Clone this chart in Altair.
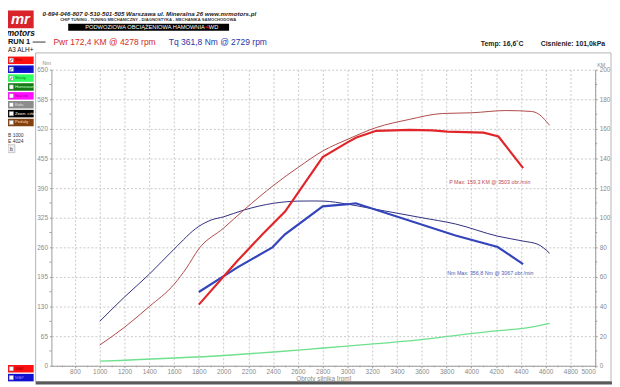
import altair as alt
import pandas as pd

# ---------------- data ----------------
# RUN 1 (thin curves)
run_tq_rpm = [1000, 1200, 1400, 1600, 1800, 1900, 2000, 2165, 2405, 2605, 2729, 2805, 3005, 3152, 3400, 3600, 3872, 4213, 4418, 4538, 4632]
run_tq_nm = [97.5, 151, 201, 256, 306, 320, 327, 342, 356.8, 361.5, 361.8, 361.5, 354.6, 347.3, 335, 325, 311.3, 284.5, 273.7, 266.5, 247]
run_pw_rpm = [1000, 1200, 1400, 1600, 1700, 1800, 2000, 2165, 2405, 2605, 2805, 3005, 3232, 3499, 3765, 4005, 4278, 4485, 4525, 4632]
run_pw_km = [14, 26, 40, 55, 66, 79, 93, 105.3, 122, 134.2, 145.3, 153.1, 160.9, 166.4, 170.4, 170.9, 172.4, 171.8, 170.9, 162.4]
# second run (thick curves)
cmp_tq_rpm = [1800, 2112, 2394, 2493, 2800, 3005, 3067, 3872, 4213, 4418]
cmp_tq_nm = [162, 216, 260, 288, 350, 354.7, 356.8, 286, 260.7, 223.2]
cmp_pw_rpm = [1800, 2112, 2312, 2496, 2800, 3000, 3072, 3232, 3503, 3685, 3805, 4099, 4219, 4418]
cmp_pw_km = [41.3, 70.9, 88.7, 104.2, 140.9, 150.9, 154.2, 158.7, 159.3, 159.0, 158.2, 157.5, 154.9, 133.5]
# losses
loss_rpm = [1000, 2032, 2405, 2805, 3232, 3632, 3805, 4219, 4418, 4632]
loss_km = [3.1, 7.1, 9.3, 12, 14.9, 18, 19.8, 23.8, 25.3, 28.7]

x_ticks = list(range(800, 5001, 200))
x_minor = list(range(700, 5001, 200))
nm_ticks = list(range(0, 651, 65))
nm_minor = [t + 32.5 for t in nm_ticks[:-1]]
km_ticks = list(range(0, 201, 20))
km_minor = [t + 10 for t in km_ticks[:-1]]

legend_labels = ["Moc", "Moment", "Straty", "Hamowanie", "Nacisk", "Koła", "Zewn. ciśn.", "Pedałg"]
legend_colors = ["#ff1010", "#1010d0", "#30ff60", "#157a15", "#ff10ff", "#8c8c8c", "#000000", "#804010"]
legend_text = ["#a00000", "#000080", "#108030", "#c0ffc0", "#a000a0", "#e0e0e0", "#ffffff", "#ffd0a0"]
legend_checked = [True, True, True, False, False, False, False, False]

FONT = "Liberation Sans"
X0, Y0 = 52, 68          # page position of the plot origin
W, H = 551, 300

dummy = pd.DataFrame({"d": [0]})


def txt(s, xp, yp, size, color="#222222", weight="normal", style="normal", align="left", font=FONT):
    return alt.Chart(dummy).mark_text(
        text=s, fontSize=size, color=color, fontWeight=weight, fontStyle=style,
        align=align, baseline="middle", font=font
    ).encode(x=alt.value(xp - X0), y=alt.value(yp - Y0))


def box(x1, y1, x2, y2, fill, stroke=None, sw=0.0, fo=1.0):
    kw = dict(fill=fill, fillOpacity=fo)
    if stroke is not None:
        kw.update(stroke=stroke, strokeWidth=sw)
    return alt.Chart(dummy).mark_rect(**kw).encode(
        x=alt.value(x1 - X0), x2=alt.value(x2 - X0), y=alt.value(y1 - Y0), y2=alt.value(y2 - Y0))


def hline(x1, x2, yp, color, sw=1.0):
    return alt.Chart(dummy).mark_rule(color=color, strokeWidth=sw).encode(
        x=alt.value(x1 - X0), x2=alt.value(x2 - X0), y=alt.value(yp - Y0))


# ---------------- scales / axes ----------------
lab = dict(labelFont=FONT, labelFontSize=6.5, labelColor="#8a8a8a", tickColor="#9a9a9a",
           domainColor="#9a9a9a", tickSize=2, labelPadding=2)
x_enc = alt.X("rpm:Q", scale=alt.Scale(domain=[610, 5000], nice=False, zero=False),
              axis=alt.Axis(values=x_ticks, format="d", grid=True, gridDash=[2, 2], gridColor="#c8c8c8",
                            title="Obroty silnika [rpm]", titleFont=FONT, titleFontSize=6.5,
                            titleFontWeight="normal", titleColor="#8a8a8a", titlePadding=0,
                            **{**lab, "labelPadding": 1}))
nm_enc = alt.Y("v:Q", scale=alt.Scale(domain=[0, 650], nice=False),
               axis=alt.Axis(values=nm_ticks, format="d", grid=True, gridDash=[2, 2], gridColor="#c8c8c8",
                             title=None, orient="left", **lab))
km_enc = alt.Y("v:Q", scale=alt.Scale(domain=[0, 200], nice=False),
               axis=alt.Axis(values=km_ticks, format="d", grid=False, title=None, orient="right", **lab))


def line(rpm, vals, y_enc, color, width, interp="linear"):
    df = pd.DataFrame({"rpm": rpm, "v": vals})
    return alt.Chart(df).mark_line(color=color, strokeWidth=width, interpolate=interp).encode(x=x_enc, y=y_enc)


nm_minor_df = pd.DataFrame({"v": nm_minor})
km_minor_df = pd.DataFrame({"v": km_minor})
x_minor_df = pd.DataFrame({"rpm": x_minor})

nm_group = alt.layer(
    line(run_tq_rpm, run_tq_nm, nm_enc, "#2e2e80", 1.0, "monotone"),
    line(cmp_tq_rpm, cmp_tq_nm, nm_enc, "#3444bb", 2.2),
    alt.Chart(nm_minor_df).mark_rule(color="#9a9a9a").encode(y=nm_enc, x=alt.value(-2), x2=alt.value(0)),
)
km_group = alt.layer(
    line(loss_rpm, loss_km, km_enc, "#6ee08e", 1.3, "monotone"),
    line(run_pw_rpm, run_pw_km, km_enc, "#b04848", 1.0, "monotone"),
    line(cmp_pw_rpm, cmp_pw_km, km_enc, "#e0262a", 2.2),
    alt.Chart(km_minor_df).mark_rule(color="#9a9a9a").encode(y=km_enc, x=alt.value(W), x2=alt.value(W + 2)),
)
x_minor_layer = alt.Chart(x_minor_df).mark_rule(color="#9a9a9a").encode(
    x=x_enc, y=alt.value(H), y2=alt.value(H + 1.5))

# ---------------- decorations ----------------
back = [
    box(36, 51, 619, 384, "#ffffff", "#b4b4b4", 1.0, 0.0),
    box(36, 384, 620, 387, "#5a5a5a"),
]

front = [
    # logo
    box(8, 8, 34, 26, "#d8232a"),
    txt("mr", 20.5, 17, 15, "#ffffff", "bold", "italic", "center"),
    txt("motors", 21, 31, 8.5, "#111111", "bold", "italic", "center"),
    # header
    txt("0-694-046-807   0-510-501-505   Warszawa ul. Mineralna 26   www.mrmotors.pl", 43, 11.5, 6.2, "#222222", "bold", "italic"),
    txt("CHIP TUNING - TUNING MECHANICZNY - DIAGNOSTYKA - MECHANIKA SAMOCHODOWA", 150, 18, 4.2, "#333333", "bold", "normal", "center"),
    box(69, 21.5, 232, 28.5, "#000000"),
    txt("PODWOZIOWA OBCIĄŻENIOWA HAMOWNIA ", 207.5, 25, 5.8, "#ffffff", "normal", "normal", "right"),
    txt("4", 208, 25, 5.8, "#ff2020"),
    txt("WD", 211.5, 25, 5.8, "#ffffff"),
    txt("RUN 1", 8, 40, 7.5, "#111111", "bold"),
    txt("A3 ALH+", 8, 48.5, 6.5, "#111111"),
    hline(33, 46, 40, "#333333", 1.0),
    txt("Pwr  172,4 KM @ 4278 rpm", 54, 40, 8.6, "#d42a2a"),
    txt("Tq  361,8 Nm @ 2729 rpm", 171, 40, 8.6, "#2a35a8"),
    txt("Temp: 16,6˚C", 487, 42, 7.0, "#222222", "bold"),
    txt("Cisnienie: 101,0kPa", 613, 42, 7.0, "#222222", "bold", "normal", "right"),
    # axis unit labels
    txt("Nm", 43, 61, 5.5, "#8a8a8a"),
    txt("KM", 605, 63, 5.5, "#8a8a8a"),
    # annotations
    txt("P Max: 159,3 KM @ 3503 obr./min", 455, 182, 5.4, "#c04848"),
    txt("Nm Max: 356,8 Nm @ 3067 obr./min", 453, 274, 5.4, "#4a58b8"),
    # misc left panel
    txt("B 1000", 8, 134, 5, "#333333"),
    txt("E 4024", 8, 140, 5, "#333333"),
    box(8, 144, 15, 152, "#eeeeee", "#aaaaaa", 0.6),
    txt("b", 11.5, 148, 5, "#333333", "normal", "normal", "center"),
]

for i, (name, col, tcol, chk) in enumerate(zip(legend_labels, legend_colors, legend_text, legend_checked)):
    yc = 58.5 + 9 * i
    front.append(box(8, yc - 3.8, 34, yc + 3.8, col))
    front.append(box(9.2, yc - 2.2, 13.6, yc + 2.2, "#ffffff", "#777777", 0.5))
    if chk:
        front.append(txt("✓", 11.4, yc, 5, "#000000", "bold", "normal", "center", "DejaVu Sans"))
    front.append(txt(name, 15, yc, 4.3, tcol))

for yc, col, name, tcol in [(371, "#ff1010", "MAP", "#a00000"), (380, "#1010d0", "MAP", "#8080ff")]:
    front.append(box(8, yc - 3.8, 34, yc + 3.8, col))
    front.append(box(9.2, yc - 2.2, 13.6, yc + 2.2, "#ffffff", "#777777", 0.5))
    front.append(txt(name, 15, yc, 4.3, tcol))

chart = alt.layer(*back, x_minor_layer, nm_group, km_group, *front).resolve_scale(
    y="independent"
).properties(
    width=W, height=H, autosize="none",
    padding={"left": X0 - 8, "top": Y0 - 8, "right": 612 - (X0 - 8) - W, "bottom": 379 - (Y0 - 8) - H},
    background="#ffffff",
).configure_view(stroke=None)

chart.save("out.html", embed_options={"renderer": "svg", "actions": False})
